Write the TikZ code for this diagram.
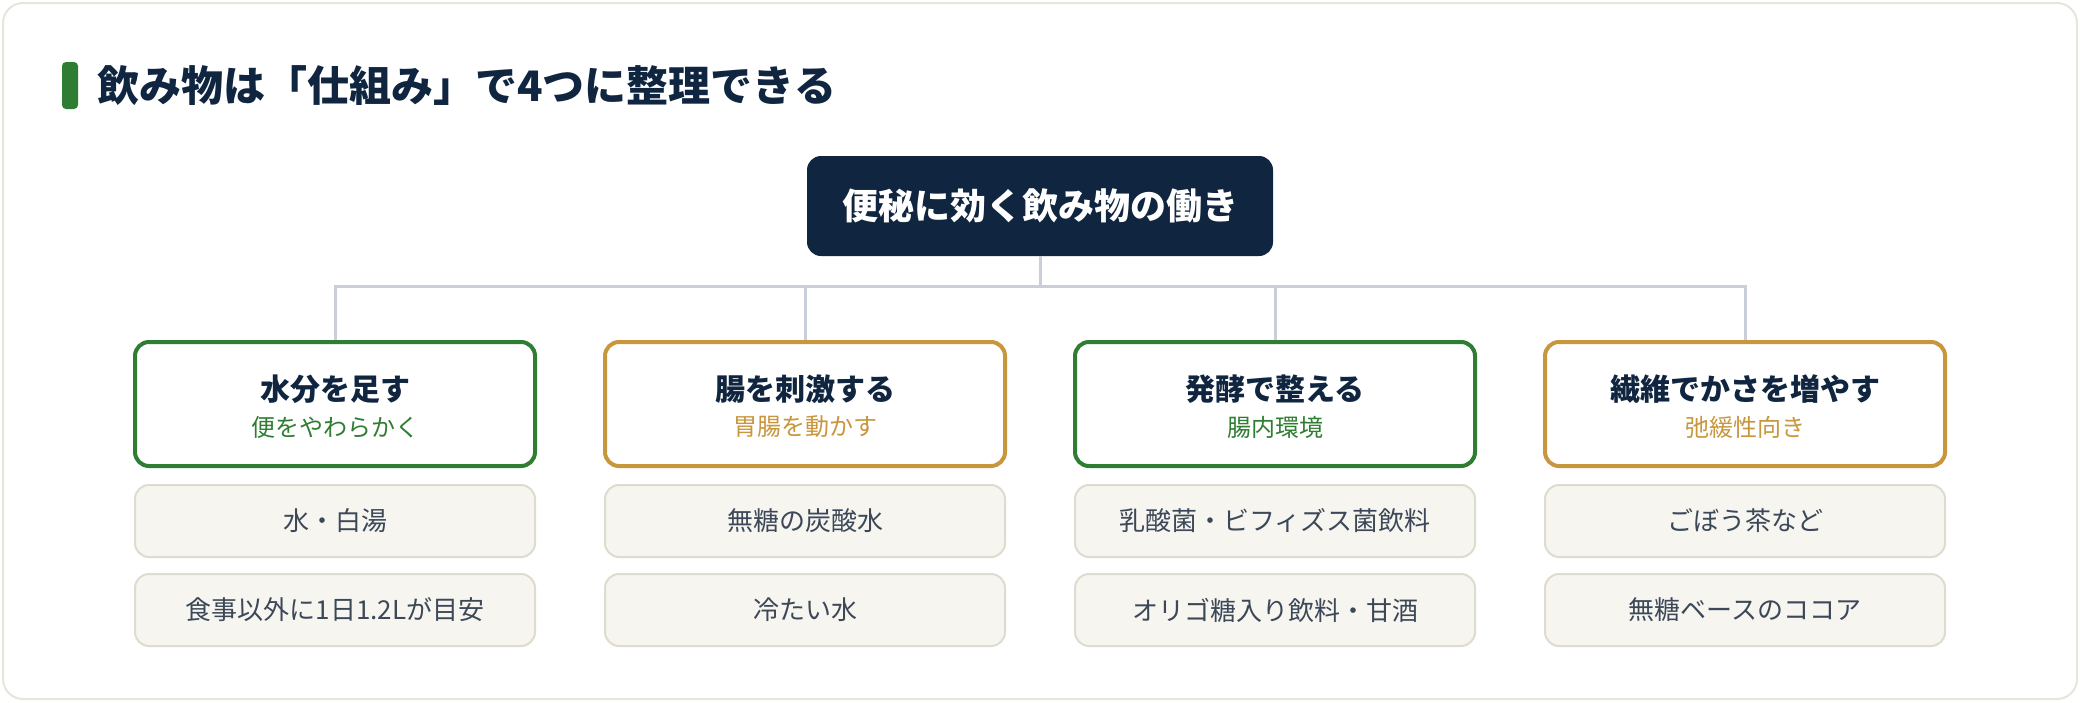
\documentclass[tikz,border=0pt]{standalone}
\usepackage{fontspec}
\setmainfont{Noto Sans CJK JP}
\usetikzlibrary{positioning,calc}
\definecolor{navy}{HTML}{10253F}
\definecolor{catgreen}{HTML}{2E7D32}
\definecolor{catgold}{HTML}{C8963C}
\definecolor{linkgray}{HTML}{C9CED8}
\definecolor{itemfill}{HTML}{F6F5F0}
\definecolor{itemline}{HTML}{DEDBCF}
\definecolor{itemtext}{HTML}{3C4858}
\definecolor{cardline}{HTML}{E8E6DA}

\begin{document}
\begin{tikzpicture}[x=0.5pt,y=-0.5pt,
    catbox/.style={draw=#1,line width=2pt,fill=white,rounded corners=7pt,minimum width=200pt,minimum height=62pt},
    cattitle/.style={text=navy,inner sep=0pt,font=\bfseries\fontsize{15pt}{18pt}\selectfont},
    catsub/.style={text=#1,inner sep=0pt,font=\fontsize{12pt}{14pt}\selectfont},
    itembox/.style={draw=itemline,line width=1pt,fill=itemfill,rounded corners=7pt,minimum width=200pt,minimum height=36pt,text=itemtext,font=\fontsize{13pt}{15pt}\selectfont},
    link/.style={draw=linkgray,line width=1.5pt}]
            \useasboundingbox (0,0) rectangle (2080,702);
            \draw[cardline,line width=1pt,fill=white,rounded corners=10pt] (3,3) rectangle (2077,699);
            % heading
            \fill[catgreen,rounded corners=2pt] (62,62) rectangle (78,109);
            \node[anchor=west,inner sep=0pt,text=navy,font=\bfseries\fontsize{21pt}{24pt}\selectfont] (title) at (97,86) {飲み物は「仕組み」で4つに整理できる};
            % root
            \node[fill=navy,rounded corners=7pt,minimum width=233pt,minimum height=50pt,text=white,font=\bfseries\fontsize{18pt}{21pt}\selectfont] (root) at (1040,206) {便秘に効く飲み物の働き};
            % four groups
            \node[catbox=catgreen] (c1) at (335,404) {};
            \node[catbox=catgold] (c2) at (805,404) {};
            \node[catbox=catgreen] (c3) at (1275,404) {};
            \node[catbox=catgold] (c4) at (1745,404) {};
            \node[cattitle] (t1) at (335,389) {水分を足す};
            \node[catsub=catgreen] (s1) at (335,427) {便をやわらかく};
            \node[cattitle] (t2) at (805,389) {腸を刺激する};
            \node[catsub=catgold] (s2) at (805,427) {胃腸を動かす};
            \node[cattitle] (t3) at (1275,389) {発酵で整える};
            \node[catsub=catgreen] (s3) at (1275,427) {腸内環境};
            \node[cattitle] (t4) at (1745,389) {繊維でかさを増やす};
            \node[catsub=catgold] (s4) at (1745,427) {弛緩性向き};
            % examples
            \node[itembox] (e11) at (335,521) {水・白湯};
            \node[itembox] (e12) at (335,610) {食事以外に1日1.2Lが目安};
            \node[itembox] (e21) at (805,521) {無糖の炭酸水};
            \node[itembox] (e22) at (805,610) {冷たい水};
            \node[itembox] (e31) at (1275,521) {乳酸菌・ビフィズス菌飲料};
            \node[itembox] (e32) at (1275,610) {オリゴ糖入り飲料・甘酒};
            \node[itembox] (e41) at (1745,521) {ごぼう茶など};
            \node[itembox] (e42) at (1745,610) {無糖ベースのココア};
            % connectors
            \coordinate (bus) at (1040,286);
            \draw[link] (root.south) -- (bus);
            \draw[link] (bus) -| (c1.north);
            \draw[link] (bus) -| (c2.north);
            \draw[link] (bus) -| (c3.north);
            \draw[link] (bus) -| (c4.north);
\end{tikzpicture}
\end{document}
